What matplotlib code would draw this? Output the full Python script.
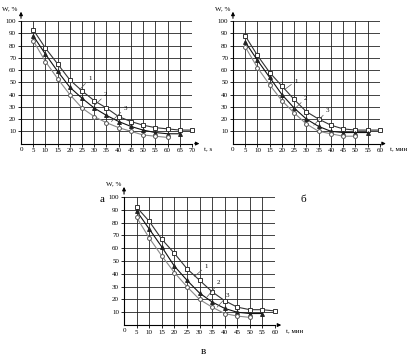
import matplotlib
matplotlib.use("Agg")
import matplotlib.pyplot as plt

plt.rcParams['font.family'] = ['Liberation Serif', 'DejaVu Serif']

# panel а
t_a1 = [5, 10, 15, 20, 25, 30, 35, 40, 45, 50, 55, 60, 65, 70]
w_a1 = [93, 78, 65, 52, 43, 35, 29, 22, 18, 15, 13, 12, 11, 11]
t_a2 = [5, 10, 15, 20, 25, 30, 35, 40, 45, 50, 55, 60, 65]
w_a2 = [88, 73, 59, 46, 37, 29, 23, 18, 14, 11, 9, 8, 8]
t_a3 = [5, 10, 15, 20, 25, 30, 35, 40, 45, 50, 55, 60]
w_a3 = [84, 67, 53, 40, 29, 22, 17, 13, 10, 7, 6, 5]

# panel б
t_b1 = [5, 10, 15, 20, 25, 30, 35, 40, 45, 50, 55, 60]
w_b1 = [88, 72, 58, 47, 36, 26, 20, 15, 12, 11, 11, 11]
t_b2 = [5, 10, 15, 20, 25, 30, 35, 40, 45, 50, 55]
w_b2 = [83, 68, 54, 40, 29, 20, 14, 10, 9, 9, 9]
t_b3 = [5, 10, 15, 20, 25, 30, 35, 40, 45, 50]
w_b3 = [79, 62, 48, 35, 25, 16, 10, 8, 6, 6]

# panel в
t_c1 = [5, 10, 15, 20, 25, 30, 35, 40, 45, 50, 55, 60]
w_c1 = [92, 81, 67, 56, 44, 35, 26, 19, 14, 12, 12, 11]
t_c2 = [5, 10, 15, 20, 25, 30, 35, 40, 45, 50, 55]
w_c2 = [89, 75, 61, 46, 35, 25, 18, 13, 10, 9, 9]
t_c3 = [5, 10, 15, 20, 25, 30, 35, 40, 45, 50]
w_c3 = [84, 68, 54, 41, 30, 20, 14, 9, 7, 6]

fig = plt.figure(figsize=(4.08, 3.58), dpi=100)

FS = 5


def panel(rect, tmax, xlabel, series, labels, letter, letter_xy):
    ax = fig.add_axes(rect)
    ax.set_xlim(0, tmax)
    ax.set_ylim(0, 100)
    ax.set_xticks(range(5, tmax + 1, 5))
    ax.set_yticks(range(10, 101, 10))
    ax.set_xticklabels([str(v) for v in range(5, tmax + 1, 5)], fontsize=FS)
    ax.set_yticklabels([str(v) for v in range(10, 101, 10)], fontsize=FS)
    ax.tick_params(length=2, width=0.6, pad=1.5)
    ax.grid(True, color='#222222', lw=0.6)
    for s in ['top', 'right']:
        ax.spines[s].set_visible(False)
    for s in ['left', 'bottom']:
        ax.spines[s].set_linewidth(0.8)
    ax.text(0, -2.5, '0', fontsize=FS, ha='center', va='top')
    # axis arrows
    ax.annotate('', xy=(1.06, 0), xycoords='axes fraction', xytext=(1.0, 0),
                arrowprops=dict(arrowstyle='-|>', lw=0.8, color='black',
                                mutation_scale=5), annotation_clip=False)
    ax.annotate('', xy=(0, 1.1), xycoords='axes fraction', xytext=(0, 1.0),
                arrowprops=dict(arrowstyle='-|>', lw=0.8, color='black',
                                mutation_scale=5), annotation_clip=False)
    ax.text(1.07, -0.03, xlabel, transform=ax.transAxes, fontsize=FS,
            ha='left', va='top')
    ax.text(-0.02, 1.1, 'W, %', transform=ax.transAxes, fontsize=FS,
            ha='right', va='center')

    styles = [
        dict(marker='s', mfc='white', mec='#333333', color='#333333'),
        dict(marker='^', mfc='#222222', mec='#222222', color='#111111'),
        dict(marker='o', mfc='white', mec='#555555', color='#888888'),
    ]
    for (t, w), st in zip(series, styles):
        ax.plot(t, w, lw=0.8, ms=2.8, mew=0.7, clip_on=False, **st)
    for txt, (lx, ly), (px, py) in labels:
        ax.annotate(txt, xy=(px, py), xytext=(lx, ly), fontsize=FS,
                    ha='left', va='bottom',
                    arrowprops=dict(arrowstyle='-', lw=0.5, color='#555555',
                                    shrinkA=0, shrinkB=0))
    fig.text(letter_xy[0], letter_xy[1], letter, fontsize=8,
             ha='center', va='center')
    return ax


panel([0.0515, 0.599, 0.419, 0.342], 70, 't, s',
      [(t_a1, w_a1), (t_a2, w_a2), (t_a3, w_a3)],
      [('1', (27.5, 51), (24, 44)),
       ('2', (34, 38), (30, 31)),
       ('3', (42, 27), (37, 18))],
      'а', (102 / 408, 1 - 200 / 358))

panel([0.571, 0.599, 0.360, 0.342], 60, 't, мин',
      [(t_b1, w_b1), (t_b2, w_b2), (t_b3, w_b3)],
      [('1', (25, 49), (21, 44)),
       ('2', (29, 35), (25, 28)),
       ('3', (38, 25), (33, 15))],
      'б', (303 / 408, 1 - 200 / 358))

panel([0.304, 0.092, 0.370, 0.358], 60, 't, мин',
      [(t_c1, w_c1), (t_c2, w_c2), (t_c3, w_c3)],
      [('1', (32, 44), (28, 38)),
       ('2', (37, 31), (33, 22)),
       ('3', (40.5, 21), (37, 14))],
      'в', (203 / 408, 1 - 352 / 358))

fig.savefig('out.png', dpi=100)
